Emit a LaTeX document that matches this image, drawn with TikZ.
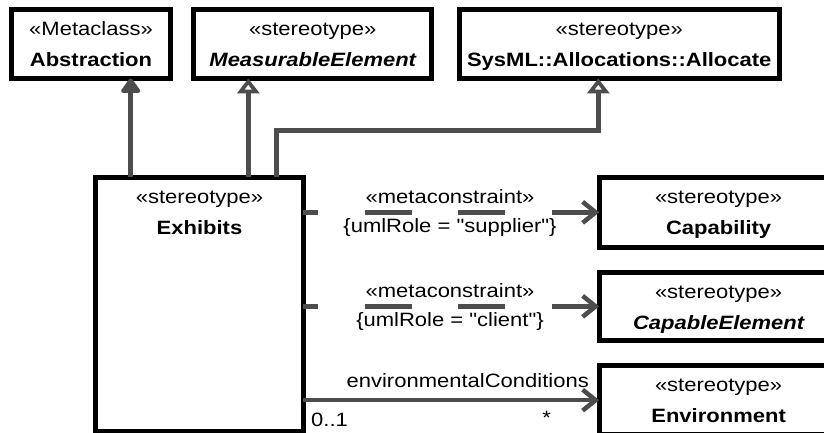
\documentclass[tikz,border=0pt]{standalone}
\usepackage{fontspec}
\setmainfont[FakeStretch=1.14, Ligatures=TeXOff]{Liberation Sans}
\usetikzlibrary{arrows.meta}
\definecolor{connc}{RGB}{77,77,77}
\begin{document}
\begin{tikzpicture}[x=1pt,y=-1pt, font=\fontsize{19.3}{23}\selectfont,
  umlbox/.style={draw=black, line width=5pt, inner sep=0pt, outer sep=0pt, rectangle},
  lbl/.style={anchor=base, inner sep=0pt, text=black},
  conn/.style={draw=connc, line width=4.5pt},
  genfilled/.style={conn, -{Triangle[length=16pt,width=22pt,round,fill=connc]}},
  genopen/.style={conn, -{Triangle[open,length=15pt,width=22pt,fill=white]}},
  deparrow/.style={conn, dash pattern=on 46.7pt off 46.7pt, dash phase=31.6pt, -{Straight Barb[length=13pt,width=21pt]}},
  assoc/.style={conn, -{Straight Barb[length=13pt,width=21pt]}}
]
\useasboundingbox (0,0) rectangle (824,433);
\clip (0,0) rectangle (824,433);
\fill[white] (0,0) rectangle (824,433);

% boxes
\node[umlbox, minimum width=158.7pt, minimum height=68.8pt] (abs) at (91,44.1) {};
\node[lbl] at ([yshift=-26pt]abs.north) {«Metaclass»};
\node[lbl] at ([yshift=-57pt]abs.north) {\bfseries Abstraction};

\node[umlbox, minimum width=237.9pt, minimum height=68.8pt] (meas) at (312.75,44.1) {};
\node[lbl] at ([yshift=-26pt]meas.north) {«stereotype»};
\node[lbl] at ([yshift=-57pt]meas.north) {\bfseries\itshape MeasurableElement};

\node[umlbox, minimum width=320.5pt, minimum height=68.8pt] (alloc) at (619.25,44.1) {};
\node[lbl] at ([yshift=-26pt]alloc.north) {«stereotype»};
\node[lbl] at ([yshift=-57pt]alloc.north) {\bfseries SysML::Allocations::Allocate};

\node[umlbox, minimum width=207.4pt, minimum height=254.3pt] (exh) at (199.5,304.35) {};
\node[lbl] at ([yshift=-26pt]exh.north) {«stereotype»};
\node[lbl] at ([yshift=-57pt]exh.north) {\bfseries Exhibits};

\node[umlbox, minimum width=238.8pt, minimum height=69.7pt] (cap) at (718.6,212.35) {};
\node[lbl] at ([yshift=-26pt]cap.north) {«stereotype»};
\node[lbl] at ([yshift=-57pt]cap.north) {\bfseries Capability};

\node[umlbox, minimum width=238.8pt, minimum height=68.3pt] (capel) at (718.6,306.35) {};
\node[lbl] at ([yshift=-26pt]capel.north) {«stereotype»};
\node[lbl] at ([yshift=-57pt]capel.north) {\bfseries\itshape CapableElement};

\node[umlbox, minimum width=238.8pt, minimum height=68.7pt] (env) at (718.6,400.15) {};
\node[lbl] at ([yshift=-26pt]env.north) {«stereotype»};
\node[lbl] at ([yshift=-57pt]env.north) {\bfseries Environment};

% generalizations
\coordinate (g1) at ([xshift=34.9pt]exh.north west);
\coordinate (g2) at ([xshift=152.5pt]exh.north west);
\coordinate (g3) at ([xshift=180.9pt]exh.north west);
\coordinate (bend) at (598.3,130.3);
\draw[genfilled] (g1) -- (g1 |- abs.south);
\draw[genopen] (g2) -- (g2 |- meas.south);
\draw[genopen] (g3) |- (bend) -- (bend |- alloc.south);

% metaconstraints
\draw[deparrow] (exh.east |- cap.west) -- (cap.west);
\node[lbl] at (450,203.3) {«metaconstraint»};
\node[lbl] at (450,232) {\{umlRole = "supplier"\}};

\draw[deparrow] (exh.east |- capel.west) -- (capel.west);
\node[lbl] at (450,297.1) {«metaconstraint»};
\node[lbl] at (450,326) {\{umlRole = "client"\}};

% association
\draw[assoc] (exh.east |- env.west) -- (env.west);
\node[lbl, anchor=base east] at (589,387.7) {environmentalConditions};
\node[lbl, anchor=base west] at (311,426.7) {0..1};
\node[lbl] at (546.7,424) {*};
\end{tikzpicture}
\end{document}
